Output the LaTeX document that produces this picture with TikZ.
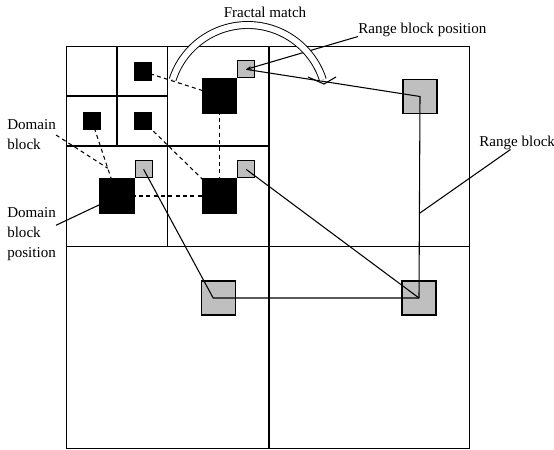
\documentclass[tikz,border=0pt]{standalone}
\usepackage{fontspec}
\setmainfont{Liberation Serif}
\usetikzlibrary{arrows.meta,calc,backgrounds}

\tikzset{
  gridline/.style={line width=0.8pt},
  dom/.style={draw, fill=black, line width=0.8pt, inner sep=0pt},
  rng/.style={draw, fill=black!25, line width=0.9pt, inner sep=0pt},
  bigblk/.style={minimum size=25.5pt},
  smallblk/.style={minimum size=12.75pt},
  link/.style={line width=0.8pt},
  dashlink/.style={line width=0.8pt, dash pattern=on 3pt off 2.5pt},
  lbl/.style={font=\fontsize{11.3}{15}\selectfont, inner sep=0pt, align=left}
}

\begin{document}
\begin{tikzpicture}[x=0.75pt, y=-0.75pt]
\useasboundingbox (0,0) rectangle (554,450);
% quadtree partition
\draw[gridline] (66.5,46.5) rectangle (469.5,448.5);
\draw[gridline] (269,46.5) -- (269,448.5) (66.5,246.5) -- (469.5,246.5);
\draw[gridline] (167.5,46.5) -- (167.5,246.5) (66.5,146) -- (269,146);
\draw[gridline] (117,46.5) -- (117,146) (66.5,96) -- (167.5,96);

% domain blocks
\node[dom, smallblk] (s1) at (143,71.5) {};
\node[dom, smallblk] (s2) at (92,121) {};
\node[dom, smallblk] (s3) at (143,121) {};
\node[dom, bigblk] (D1) at (117,196) {};
\node[dom, bigblk] (D2) at (219.5,96) {};
\node[dom, bigblk] (D3) at (219.5,196) {};

% range blocks
\node[rng, smallblk, anchor=south west] (r1) at (D1.north east) {};
\node[rng, smallblk, anchor=south west] (r2) at (D2.north east) {};
\node[rng, smallblk, anchor=south west] (r3) at (D3.north east) {};
\node[rng, bigblk] (R1) at (420,96.5) {};
\node[rng, bigblk] (R2) at (218.5,298) {};
\node[rng, bigblk] (R3) at (419,298) {};

% labels
\node[lbl, anchor=base] (lFM) at (265,17) {Fractal match};
\node[lbl, anchor=base west] (lRBP) at (358,33) {Range block position};
\node[lbl, anchor=base west] (lRB) at (479,146) {Range block};
\node[lbl, anchor=north west] (lDB) at (7,119.7) {Domain\\block};
\node[lbl, anchor=north west] (lDBP) at (7,207.7) {Domain\\block\\position};

\coordinate (dbpt) at ($(s2)!0.63!(D1)$);
\coordinate (rbpt) at ($(R1)!0.58!(R3)$);
\coordinate (p2) at ([xshift=-4pt]R2.center);

\begin{pgfonlayer}{background}
\draw[dashlink] (s1.center) -- (D2.center);
\draw[dashlink] (s3.center) -- (D3.center);
\draw[dashlink] (s2.center) -- (D1.center);
\draw[dashlink] (D1.center) -- (D3.center);
\draw[dashlink] (D2.center) -- (D3.center);
\draw[dashlink] (lDB.east) -- (dbpt);
\end{pgfonlayer}

\draw[link] (r1.center) -- (p2) -- (R3.center);
\draw[link] (r3.center) -- (R3.center);
\draw[link] (r2.center) -- (R1.center) -- (R3.center);

% leaders
\draw[link] ([xshift=-5pt]lRB.south) -- (rbpt);
\draw[link, -{Stealth[length=4pt, width=3pt]}] (lRBP.south west) -- (r2.center);
\draw[link] ([yshift=7pt]lDBP.east) -- ($(D1.west)!0.5!(D1.south west)$);

% fractal match arc
\coordinate (fmS) at (172.6,79.6);
\coordinate (vtip) at (324,84);
\coordinate (va) at (308,77);
\coordinate (vb) at (336,77);
\draw[line width=0.7pt, double, double distance=4.5pt] (fmS) arc[start angle=-162, end angle=-18, radius=79];
\draw[link] (va) -- (vtip) -- (vb);
\end{tikzpicture}
\end{document}
